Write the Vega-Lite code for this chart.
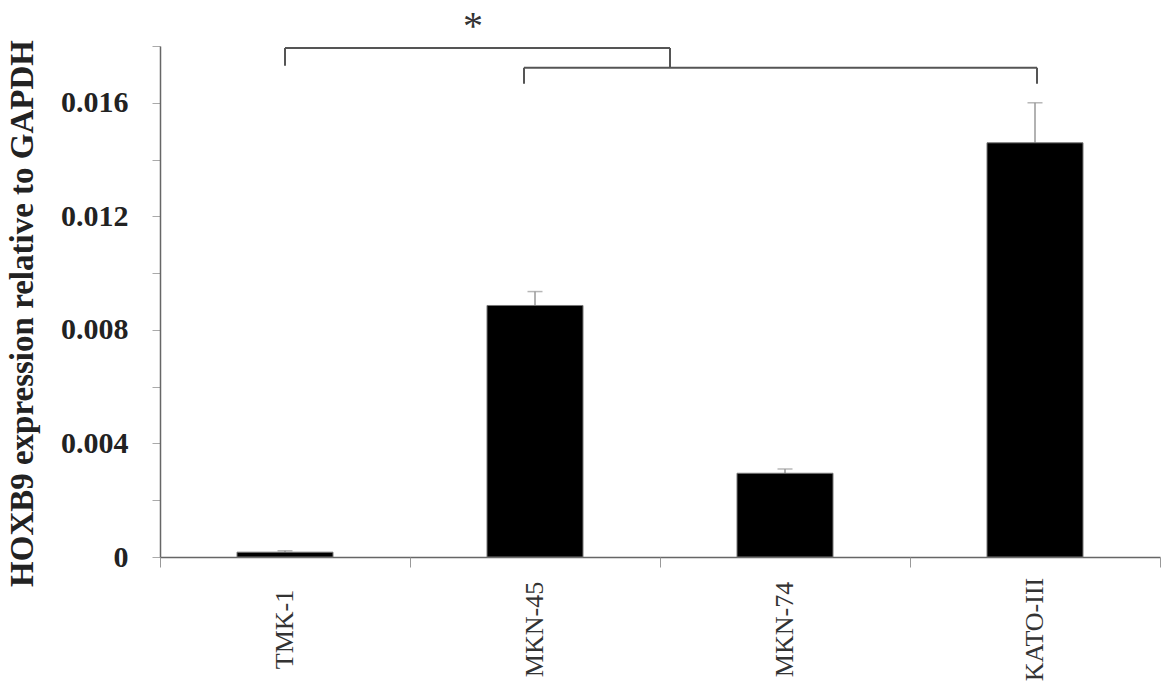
{
  "$schema": "https://vega.github.io/schema/vega-lite/v6.json",
  "autosize": {"type": "none"},
  "padding": {"left": 160, "top": 46, "right": 15, "bottom": 142},
  "width": 1000,
  "height": 511,
  "background": "white",
  "config": {"view": {"stroke": null}},
  "datasets": {
    "bars": [
      {"line": "TMK-1", "value": 0.00017, "upper": 0.00022},
      {"line": "MKN-45", "value": 0.00886, "upper": 0.00935},
      {"line": "MKN-74", "value": 0.00295, "upper": 0.0031},
      {"line": "KATO-III", "value": 0.01459, "upper": 0.016}
    ],
    "brackets": [
      {"x": 0.5, "x2": 2.04, "y": 0.01793, "y2": 0.01793},
      {"x": 0.5, "x2": 0.5, "y": 0.01793, "y2": 0.0173},
      {"x": 2.04, "x2": 2.04, "y": 0.01793, "y2": 0.01723},
      {"x": 1.456, "x2": 3.508, "y": 0.01723, "y2": 0.01723},
      {"x": 1.456, "x2": 1.456, "y": 0.01723, "y2": 0.01667},
      {"x": 3.508, "x2": 3.508, "y": 0.01723, "y2": 0.01667}
    ],
    "stars": [{"x": 1.252, "y": 0.01888, "label": "*"}],
    "boundaries": [{"x": 0}, {"x": 1}, {"x": 2}, {"x": 3}, {"x": 4}]
  },
  "layer": [
    {
      "data": {"name": "bars"},
      "encoding": {
        "x": {
          "field": "line",
          "type": "nominal",
          "sort": null,
          "scale": {"paddingInner": 0.616, "paddingOuter": 0.308},
          "axis": {
            "title": null,
            "ticks": false,
            "tickSize": 0,
            "domain": true,
            "domainColor": "#666",
            "domainWidth": 1.5,
            "labelAngle": -90,
            "labelAlign": "center",
            "labelBaseline": "middle",
            "labelPadding": 72,
            "labelFont": "Liberation Serif",
            "labelFontSize": 26,
            "labelColor": "#333",
            "labelOverlap": false,
            "grid": false
          }
        }
      },
      "layer": [
        {
          "mark": {"type": "rule", "color": "#999", "strokeWidth": 1.5},
          "encoding": {
            "y": {"field": "value", "type": "quantitative", "scale": {"domain": [0, 0.018], "nice": false}},
            "y2": {"field": "upper"}
          }
        },
        {
          "mark": {"type": "tick", "orient": "horizontal", "color": "#999", "size": 15, "thickness": 1.5},
          "encoding": {
            "y": {"field": "upper", "type": "quantitative", "scale": {"domain": [0, 0.018], "nice": false}}
          }
        },
        {
          "mark": {"type": "bar", "color": "black", "stroke": "#777", "strokeWidth": 1},
          "encoding": {
            "y": {
              "field": "value",
              "type": "quantitative",
              "scale": {"domain": [0, 0.018], "nice": false},
              "axis": {
                "title": "HOXB9 expression relative to GAPDH",
                "titleFont": "Liberation Serif",
                "titleFontWeight": "bold",
                "titleFontSize": 33,
                "titleColor": "#222",
                "titleX": -138,
                "titleY": 267,
                "titleAngle": -90,
                "titleAlign": "center",
                "titleBaseline": "middle",
                "values": [0, 0.002, 0.004, 0.006, 0.008, 0.01, 0.012, 0.014, 0.016, 0.018],
                "labelExpr": "round(datum.value*1000) % 4 == 0 ? (datum.value == 0 ? '0' : format(datum.value, '.3f')) : ''",
                "labelFont": "Liberation Serif",
                "labelFontWeight": "bold",
                "labelFontSize": 30,
                "labelColor": "#222",
                "labelPadding": 24,
                "labelOverlap": false,
                "labelBound": false,
                "labelFlush": false,
                "tickSize": 8,
                "tickColor": "#aaa",
                "tickWidth": 1,
                "domainColor": "#666",
                "domainWidth": 1.5,
                "grid": false
              }
            }
          }
        }
      ]
    },
    {
      "layer": [
        {
          "data": {"name": "boundaries"},
          "mark": {"type": "point", "opacity": 0},
          "encoding": {
            "x": {
              "field": "x",
              "type": "quantitative",
              "scale": {"domain": [0, 4], "nice": false, "zero": false},
              "axis": {
                "orient": "bottom",
                "title": null,
                "values": [0, 1, 2, 3, 4],
                "labels": false,
                "domain": false,
                "ticks": true,
                "tickSize": 10,
                "tickColor": "#999",
                "tickWidth": 1,
                "grid": false
              }
            },
            "y": {"datum": 0, "type": "quantitative", "scale": {"domain": [0, 0.018], "nice": false}}
          }
        },
        {
          "data": {"name": "brackets"},
          "mark": {"type": "rule", "color": "#555", "strokeWidth": 2},
          "encoding": {
            "x": {"field": "x", "type": "quantitative", "scale": {"domain": [0, 4], "nice": false, "zero": false}},
            "x2": {"field": "x2"},
            "y": {"field": "y", "type": "quantitative", "scale": {"domain": [0, 0.018], "nice": false}},
            "y2": {"field": "y2"}
          }
        },
        {
          "data": {"name": "stars"},
          "mark": {"type": "text", "font": "Liberation Serif", "fontSize": 40, "color": "#333", "baseline": "middle", "dy": 6},
          "encoding": {
            "x": {"field": "x", "type": "quantitative", "scale": {"domain": [0, 4], "nice": false, "zero": false}},
            "y": {"field": "y", "type": "quantitative", "scale": {"domain": [0, 0.018], "nice": false}},
            "text": {"field": "label"}
          }
        }
      ]
    }
  ],
  "resolve": {"scale": {"x": "independent"}, "axis": {"x": "independent"}}
}
